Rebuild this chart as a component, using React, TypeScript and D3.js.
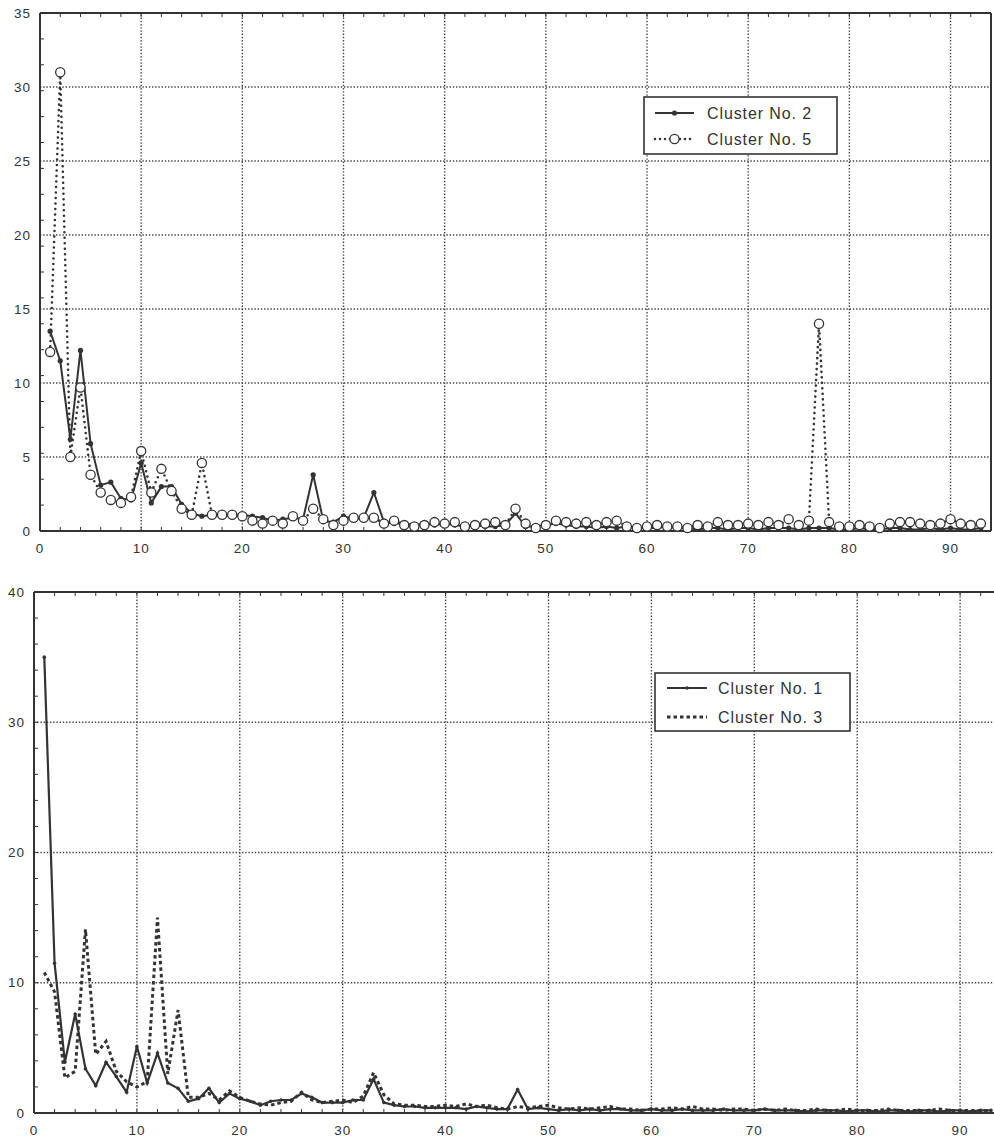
import React from "react";
import * as d3 from "d3";

// ---------- DATA ----------
const cluster2: number[] = [
  13.5, 11.5, 6.2, 12.2, 5.9, 3.1, 3.3, 2.2, 2.1, 4.6,
  1.9, 3.0, 3.0, 1.8, 1.2, 1.0, 1.1, 1.0, 1.1, 1.1,
  1.0, 0.9, 0.7, 0.8, 0.9, 0.8, 3.8, 0.7, 0.6, 1.0,
  0.8, 0.9, 2.6, 0.6, 0.5, 0.5, 0.4, 0.5, 0.4, 0.5,
  0.4, 0.3, 0.4, 0.3, 0.3, 0.4, 1.2, 0.3, 0.3, 0.4,
  0.5, 0.4, 0.3, 0.3, 0.2, 0.3, 0.2, 0.3, 0.2, 0.2,
  0.2, 0.3, 0.2, 0.2, 0.1, 0.2, 0.2, 0.1, 0.2, 0.2,
  0.1, 0.2, 0.2, 0.2, 0.1, 0.2, 0.2, 0.2, 0.1, 0.1,
  0.2, 0.1, 0.1, 0.2, 0.2, 0.1, 0.1, 0.2, 0.1, 0.2,
  0.1, 0.1, 0.2,
];
const cluster5: number[] = [
  12.1, 31.0, 5.0, 9.7, 3.8, 2.6, 2.1, 1.9, 2.3, 5.4,
  2.6, 4.2, 2.7, 1.5, 1.1, 4.6, 1.1, 1.1, 1.1, 1.0,
  0.7, 0.5, 0.7, 0.5, 1.0, 0.7, 1.5, 0.8, 0.4, 0.7,
  0.9, 0.9, 0.9, 0.5, 0.7, 0.4, 0.3, 0.4, 0.6, 0.5,
  0.6, 0.3, 0.4, 0.5, 0.6, 0.4, 1.5, 0.5, 0.2, 0.4,
  0.7, 0.6, 0.5, 0.6, 0.4, 0.6, 0.7, 0.3, 0.2, 0.3,
  0.4, 0.3, 0.3, 0.2, 0.4, 0.3, 0.6, 0.4, 0.4, 0.5,
  0.4, 0.6, 0.4, 0.8, 0.4, 0.7, 14.0, 0.6, 0.3, 0.3,
  0.4, 0.3, 0.2, 0.5, 0.6, 0.6, 0.5, 0.4, 0.5, 0.8,
  0.5, 0.4, 0.5,
];
const cluster1: number[] = [
  35.0, 11.5, 3.9, 7.6, 3.4, 2.1, 3.9, 2.8, 1.6, 5.1,
  2.3, 4.6, 2.3, 1.9, 0.9, 1.1, 1.9, 0.8, 1.5, 1.1,
  0.9, 0.6, 0.9, 1.0, 1.0, 1.5, 1.2, 0.8, 0.8, 0.8,
  1.0, 1.0, 2.6, 0.8, 0.6, 0.5, 0.5, 0.4, 0.4, 0.4,
  0.4, 0.3, 0.5, 0.4, 0.3, 0.3, 1.8, 0.3, 0.4, 0.3,
  0.2, 0.3, 0.2, 0.3, 0.2, 0.3, 0.3, 0.2, 0.2, 0.3,
  0.2, 0.2, 0.3, 0.2, 0.2, 0.2, 0.3, 0.2, 0.2, 0.2,
  0.3, 0.2, 0.2, 0.2, 0.1, 0.2, 0.2, 0.2, 0.1, 0.2,
  0.2, 0.1, 0.2, 0.2, 0.1, 0.2, 0.2, 0.1, 0.2, 0.2,
  0.1, 0.2, 0.2,
];
const cluster3: number[] = [
  10.8, 9.3, 2.7, 3.2, 14.1, 4.5, 5.5, 3.2, 2.4, 2.0,
  2.4, 15.0, 3.0, 7.9, 1.2, 1.2, 1.5, 1.0, 1.7, 1.2,
  0.9, 0.7, 0.6, 0.8, 0.9, 1.6, 1.0, 0.8, 0.9, 1.0,
  0.8, 1.3, 3.1, 1.4, 0.7, 0.6, 0.6, 0.5, 0.5, 0.6,
  0.5, 0.7, 0.5, 0.6, 0.4, 0.3, 0.5, 0.4, 0.5, 0.6,
  0.4, 0.3, 0.4, 0.3, 0.4, 0.5, 0.3, 0.3, 0.2, 0.3,
  0.3, 0.4, 0.3, 0.5, 0.3, 0.3, 0.2, 0.3, 0.3, 0.2,
  0.3, 0.2, 0.3, 0.2, 0.2, 0.3, 0.2, 0.2, 0.3, 0.2,
  0.2, 0.2, 0.3, 0.2, 0.2, 0.2, 0.2, 0.3, 0.2, 0.2,
  0.2, 0.2, 0.2,
];
const xTicks: number[] = [0, 10, 20, 30, 40, 50, 60, 70, 80, 90];
const topYTicks: number[] = [0, 5, 10, 15, 20, 25, 30, 35];
const bottomYTicks: number[] = [0, 10, 20, 30, 40];
const topLegend: string[] = ["Cluster No. 2", "Cluster No. 5"];
const bottomLegend: string[] = ["Cluster No. 1", "Cluster No. 3"];

const INK = "#333";
const GRID = "#444";
const FONT = "'Liberation Sans', Arial, sans-serif";

type Pt = { x: number; y: number };
const toPts = (arr: number[]): Pt[] => arr.map((v, i) => ({ x: i + 1, y: v }));

function Frame(props: {
  x: d3.ScaleLinear<number, number>;
  y: d3.ScaleLinear<number, number>;
  yTicks: number[];
  yMinorStep: number;
  rightBorder: boolean;
  labelRight: number;
  xLabelY: number;
}) {
  const { x, y, yTicks, yMinorStep, rightBorder, labelRight, xLabelY } = props;
  const [x0, x1] = x.range();
  const [y0, y1] = y.range();
  const [, yMax] = y.domain();
  const xMinor = d3.range(0, x.domain()[1] + 0.001, 2);
  const yMinor = d3.range(0, yMax + 0.001, yMinorStep);
  return (
    <g>
      {xTicks.filter((t) => t > 0).map((t) => (
        <line key={"gx" + t} x1={x(t)} x2={x(t)} y1={y0} y2={y1} stroke={GRID} strokeWidth={1.4} strokeDasharray="1.4,1.8" />
      ))}
      {yTicks.filter((t) => t > 0 && t < yMax).map((t) => (
        <line key={"gy" + t} x1={x0} x2={x1} y1={y(t)} y2={y(t)} stroke={GRID} strokeWidth={1.4} strokeDasharray="1.4,1.8" />
      ))}
      {xMinor.map((t) => (
        <g key={"mx" + t}>
          <line x1={x(t)} x2={x(t)} y1={y0} y2={y0 - 4} stroke={INK} strokeWidth={1} />
          <line x1={x(t)} x2={x(t)} y1={y1} y2={y1 + 4} stroke={INK} strokeWidth={1} />
        </g>
      ))}
      {yMinor.map((t) => (
        <line key={"my" + t} x1={x0} x2={x0 + 4} y1={y(t)} y2={y(t)} stroke={INK} strokeWidth={1} />
      ))}
      <line x1={x0} x2={x1} y1={y0} y2={y0} stroke={INK} strokeWidth={2} />
      <line x1={x0} x2={x1} y1={y1} y2={y1} stroke={INK} strokeWidth={2} />
      <line x1={x0} x2={x0} y1={y0} y2={y1} stroke={INK} strokeWidth={2} />
      {rightBorder && <line x1={x1} x2={x1} y1={y0} y2={y1} stroke={INK} strokeWidth={2} />}
      {yTicks.map((t) => (
        <text key={"ly" + t} x={labelRight} y={y(t)} dy="0.35em" textAnchor="end" fontFamily={FONT} fontSize={13.5} letterSpacing={1} fill={INK}>
          {t}
        </text>
      ))}
      {xTicks.map((t) => (
        <text key={"lx" + t} x={x(t)} y={xLabelY} dy="0.35em" textAnchor="middle" fontFamily={FONT} fontSize={13.5} letterSpacing={1} fill={INK}>
          {t}
        </text>
      ))}
    </g>
  );
}

export default function App() {
  const xTop = d3.scaleLinear().domain([0, 94]).range([40, 991]);
  const yTop = d3.scaleLinear().domain([0, 35]).range([531, 13]);
  const xBot = d3.scaleLinear().domain([0, 94]).range([34, 34 + 94 * 10.29]);
  const yBot = d3.scaleLinear().domain([0, 40]).range([1113, 592]);

  const lineTop = d3.line<Pt>().x((d) => xTop(d.x)).y((d) => yTop(d.y));
  const lineBot = d3.line<Pt>().x((d) => xBot(d.x)).y((d) => yBot(d.y));

  const p2 = toPts(cluster2);
  const p5 = toPts(cluster5);
  const p1 = toPts(cluster1);
  const p3 = toPts(cluster3);

  return (
    <svg width={994} height={1137} style={{ position: "absolute", left: 0, top: 0, background: "#fff" }}>
      <rect x={0} y={0} width={994} height={1137} fill="#fff" />

      {/* ===== TOP CHART ===== */}
      <Frame x={xTop} y={yTop} yTicks={topYTicks} yMinorStep={1.75} rightBorder={true} labelRight={31} xLabelY={548} />
      <path d={lineTop(p5) || ""} fill="none" stroke={INK} strokeWidth={2.6} strokeDasharray="0,5.5" strokeLinecap="round" />
      <path d={lineTop(p2) || ""} fill="none" stroke={INK} strokeWidth={2} />
      {p2.map((d) => (
        <circle key={"c2" + d.x} cx={xTop(d.x)} cy={yTop(d.y)} r={2.6} fill={INK} />
      ))}
      {p5.map((d) => (
        <circle key={"c5" + d.x} cx={xTop(d.x)} cy={yTop(d.y)} r={4.6} fill="#fff" stroke={INK} strokeWidth={1.3} />
      ))}
      <g>
        <rect x={644} y={97} width={193} height={57} fill="#fff" stroke={INK} strokeWidth={1.6} />
        <line x1={655} x2={694} y1={113} y2={113} stroke={INK} strokeWidth={2} />
        <circle cx={674.5} cy={113} r={2.6} fill={INK} />
        <line x1={655} x2={694} y1={139} y2={139} stroke={INK} strokeWidth={2.6} strokeDasharray="0,5" strokeLinecap="round" />
        <circle cx={674.5} cy={139} r={4.6} fill="#fff" stroke={INK} strokeWidth={1.3} />
        {topLegend.map((t, i) => (
          <text key={t} x={707} y={113 + i * 26} dy="0.36em" fontFamily={FONT} fontSize={16} letterSpacing={0.9} fill={INK}>
            {t}
          </text>
        ))}
      </g>

      {/* ===== BOTTOM CHART ===== */}
      <Frame x={xBot} y={yBot} yTicks={bottomYTicks} yMinorStep={2} rightBorder={false} labelRight={25} xLabelY={1130} />
      <path d={lineBot(p3) || ""} fill="none" stroke={INK} strokeWidth={3} strokeDasharray="3.5,3" />
      <path d={lineBot(p1) || ""} fill="none" stroke={INK} strokeWidth={2.2} />
      {p1.map((d) => (
        <circle key={"c1" + d.x} cx={xBot(d.x)} cy={yBot(d.y)} r={1.8} fill={INK} />
      ))}
      <g>
        <rect x={655} y={673} width={195} height={58} fill="#fff" stroke={INK} strokeWidth={1.6} />
        <line x1={667} x2={707} y1={688} y2={688} stroke={INK} strokeWidth={2.2} />
        <circle cx={687} cy={688} r={1.8} fill={INK} />
        <line x1={667} x2={707} y1={717} y2={717} stroke={INK} strokeWidth={3} strokeDasharray="3.5,3" />
        {bottomLegend.map((t, i) => (
          <text key={t} x={718} y={688 + i * 29} dy="0.36em" fontFamily={FONT} fontSize={16} letterSpacing={0.9} fill={INK}>
            {t}
          </text>
        ))}
      </g>
    </svg>
  );
}
